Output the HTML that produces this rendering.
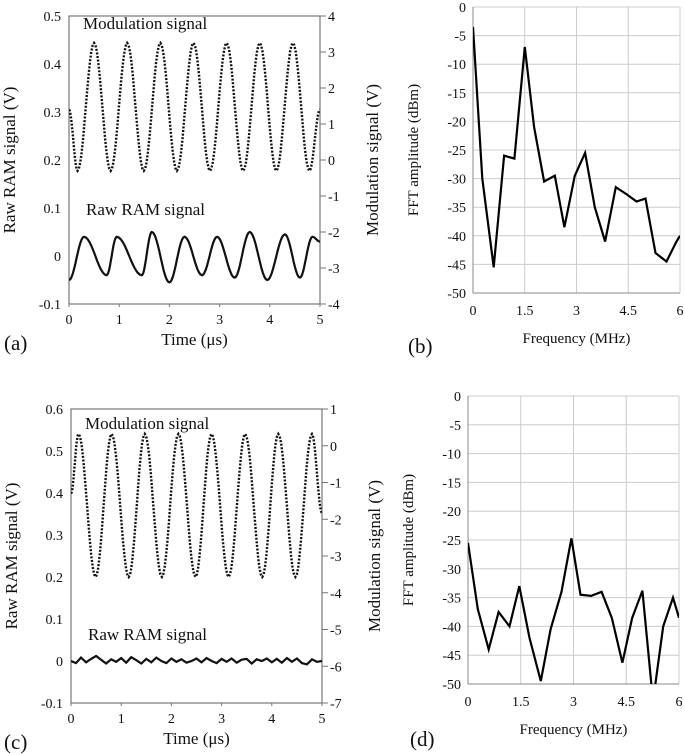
<!DOCTYPE html>
<html><head><meta charset="utf-8"><style>
body{margin:0;background:#fff}
svg{display:block}
svg text{font-family:"Liberation Serif","Times New Roman",serif}
</style></head><body>
<svg id="c" width="685" height="754" viewBox="0 0 685 754" xmlns="http://www.w3.org/2000/svg"></svg>
<script>
// Panel (a)
const aModT=[0,0.17,0.5,0.83,1.16,1.49,1.82,2.15,2.48,2.81,3.14,3.47,3.8,4.13,4.46,4.79,5.0];
const aModV=[1.4,-0.3,3.25,-0.3,3.25,-0.3,3.25,-0.3,3.25,-0.3,3.25,-0.3,3.25,-0.3,3.25,-0.3,1.4];
const aRawT=[0,0.3,0.75,0.95,1.45,1.65,2.0,2.3,2.65,2.95,3.3,3.6,3.95,4.3,4.6,4.85,5.0];
const aRawV=[-0.05,0.04,-0.04,0.04,-0.04,0.05,-0.055,0.04,-0.04,0.04,-0.045,0.05,-0.05,0.045,-0.045,0.04,0.03];
// Panel (b)
const bFreq=[0,0.27,0.6,0.9,1.2,1.5,1.77,2.06,2.37,2.65,2.95,3.25,3.53,3.83,4.14,4.44,4.74,5.0,5.29,5.61,5.9,6.0];
const bAmp=[-3.5,-30,-45.5,-26,-26.5,-7,-21,-30.5,-29.5,-38.5,-29.5,-25.5,-35,-41,-31.5,-32.7,-34,-33.5,-43,-44.5,-41,-40];
// Panel (c)
const cModT=[0,0.15,0.49,0.81,1.15,1.47,1.81,2.14,2.48,2.8,3.14,3.47,3.81,4.13,4.47,4.8,5.0];
const cModV=[-1.3,0.32,-3.57,0.32,-3.57,0.32,-3.57,0.32,-3.57,0.32,-3.57,0.32,-3.57,0.32,-3.57,0.32,-1.83];
const cRawV=[0,-0.005,0.008,-0.003,0.005,0.012,0.003,-0.006,0.004,-0.002,0.007,-0.004,0.009,0.002,-0.006,0.005,-0.003,0.008,0.0,-0.005,0.006,-0.002,0.004,-0.004,0.0,0.006,-0.003,0.007,0.0,-0.005,0.005,-0.002,0.006,-0.004,0.003,0.005,-0.006,0.004,0.0,0.006,-0.003,0.005,-0.004,0.007,-0.002,0.006,-0.005,-0.008,0.004,-0.002,0.0];
// Panel (d)
const dFreq=[0,0.28,0.59,0.87,1.18,1.46,1.75,2.07,2.35,2.66,2.94,3.2,3.5,3.8,4.09,4.39,4.67,4.96,5.26,5.55,5.83,6.0];
const dAmp=[-25.5,-37,-44,-37.5,-40,-33,-42,-49.5,-40.5,-34,-24.7,-34.5,-34.7,-34,-38.5,-46.3,-38.5,-33.8,-53,-40,-35,-38.5];
const timeTicks=[0,1,2,3,4,5];
const freqTicks=[0,1.5,3,4.5,6];
const dbTicks=[0,-5,-10,-15,-20,-25,-30,-35,-40,-45,-50];

const S=document.getElementById('c');const NS='http://www.w3.org/2000/svg';
function mk(tag,at,parent){const e=document.createElementNS(NS,tag);for(const k in at)e.setAttribute(k,at[k]);(parent||S).appendChild(e);return e;}
function txt(s,x,y,size,anchor,name,rot){const e=mk('text',{x:x,y:y,'font-size':size,'text-anchor':anchor||'middle',fill:'#111','font-family':'Liberation Serif, serif'});


if(rot)e.setAttribute('transform','rotate(-90 '+x+' '+y+')');e.textContent=s;return e;}
function lin(d0,d1,r0,r1){return v=>r0+(v-d0)/(d1-d0)*(r1-r0);}
function cosPath(T,V,sx,sy){let d='';for(let i=0;i<T.length-1;i++){for(let k=0;k<=12;k++){if(i>0&&k==0)continue;const f=k/12,w=(1-Math.cos(Math.PI*f))/2;const t=T[i]+(T[i+1]-T[i])*f,v=V[i]+(V[i+1]-V[i])*w;d+=(d?'L':'M')+sx(t).toFixed(1)+' '+sy(v).toFixed(1);}}return d;}
function linePath(X,Y,sx,sy){return X.map((x,i)=>(i?'L':'M')+sx(x).toFixed(1)+' '+sy(Y[i]).toFixed(1)).join('');}

function timePanel(o){
  const g=mk('g',{});
  const sx=lin(0,5,o.x0,o.x1),sl=lin(o.l0,o.l1,o.yb,o.yt),sr=lin(o.r0,o.r1,o.yb,o.yt);
  const clip=mk('clipPath',{id:'cl'+o.name},g);mk('rect',{x:o.x0,y:o.yt,width:o.x1-o.x0,height:o.yb-o.yt},clip);
  const r=mk('rect',{x:o.x0,y:o.yt,width:o.x1-o.x0,height:o.yb-o.yt,fill:'none',stroke:'#777','stroke-width':1.2},g);
  
  for(const t of timeTicks){txt(String(t),sx(t),o.yb+20,14,'middle','x-tick-label');mk('line',{x1:sx(t),x2:sx(t),y1:o.yb,y2:o.yb+3,stroke:'#777'},g);}
  for(let i=0;i<o.lt.length;i++){const v=o.lt[i];txt(o.ltl[i],o.x0-8,sl(v)+5,14,'end','left-tick-label');}
  for(let v=o.r0;v<=o.r1;v++){const y=sr(v);mk('line',{x1:o.x1,x2:o.x1+6,y1:y,y2:y,stroke:'#777'},g);txt(String(v),o.x1+8,y+5,14,'start','right-tick-label');}
  const m=mk('path',{d:cosPath(o.mT,o.mV,sx,sr),fill:'none',stroke:'#111','stroke-width':2.4,'stroke-dasharray':'2 1.6','clip-path':'url(#cl'+o.name+')'},g);
  
  const rw=mk('path',{d:o.rawPath(sx,sl),fill:'none',stroke:'#111','stroke-width':2.2,'clip-path':'url(#cl'+o.name+')'},g);
  
  txt('Modulation signal',o.x0+14,o.modLy,17,'start','modulation-signal-label');
  txt('Raw RAM signal',o.x0+17,o.rawLy,17,'start','raw-ram-signal-label');
  txt('Raw RAM signal (V)',o.x0-54,(o.yt+o.yb)/2,17,'middle','left-y-axis-title',true);
  txt('Modulation signal (V)',o.x1+58,(o.yt+o.yb)/2,17,'middle','right-y-axis-title',true);
  txt('Time (\u03bcs)',(o.x0+o.x1)/2,o.yb+41,17,'middle','x-axis-title');
  txt(o.letter,4,o.yb+46,21,'start','panel-label');
}
function fftPanel(o){
  const g=mk('g',{});
  const sx=lin(0,6,o.x0,o.x1),sy=lin(-50,0,o.yb,o.yt);
  const clip=mk('clipPath',{id:'cl'+o.name},g);mk('rect',{x:o.x0,y:o.yt,width:o.x1-o.x0,height:o.yb-o.yt},clip);
  for(const v of dbTicks){const y=sy(v);const l=mk('line',{x1:o.x0,x2:o.x1,y1:y,y2:y,stroke:'#ccc','stroke-width':1},g);txt(String(v),o.x0-7,y+5,14,'end','y-tick-label');}
  for(const f of freqTicks){const x=sx(f);mk('line',{x1:x,x2:x,y1:o.yt,y2:o.yb,stroke:'#ccc'},g);txt(String(f),x,o.yb+22,14,'middle','x-tick-label');}
  mk('line',{x1:o.x0,x2:o.x0,y1:o.yt,y2:o.yb,stroke:'#888'},g);
  mk('line',{x1:o.x0,x2:o.x1,y1:o.yb,y2:o.yb,stroke:'#888'},g);
  const p=mk('path',{d:linePath(o.f,o.a,sx,sy),fill:'none',stroke:'#000','stroke-width':2.2,'stroke-linejoin':'miter','clip-path':'url(#cl'+o.name+')'},g);
  
  txt('FFT amplitude  (dBm)',o.x0-55,(o.yt+o.yb)/2,15,'middle','y-axis-title',true);
  txt('Frequency  (MHz)',(o.x0+o.x1)/2,o.yb+50,15,'middle','x-axis-title');
  txt(o.letter,o.lx,o.ly,21,'start','panel-label');
}
timePanel({name:'panel-a',letter:'(a)',x0:69,x1:320,yt:16,yb:304,l0:-0.1,l1:0.5,r0:-4,r1:4,
  lt:[0.5,0.4,0.3,0.2,0.1,0,-0.1],ltl:['0.5','0.4','0.3','0.2','0.1','0','-0.1'],
  mT:aModT,mV:aModV,modLy:29,rawLy:215,rawPath:(sx,sl)=>cosPath(aRawT,aRawV,sx,sl)});
timePanel({name:'panel-c',letter:'(c)',x0:71,x1:322,yt:409,yb:703,l0:-0.1,l1:0.6,r0:-7,r1:1,
  lt:[0.6,0.5,0.4,0.3,0.2,0.1,0,-0.1],ltl:['0.6','0.5','0.4','0.3','0.2','0.1','0','-0.1'],
  mT:cModT,mV:cModV,modLy:429,rawLy:640,rawPath:(sx,sl)=>linePath(cRawV.map((v,i)=>i*0.1),cRawV,sx,sl)});
fftPanel({name:'panel-b',letter:'(b)',x0:473,x1:680,yt:7,yb:293,f:bFreq,a:bAmp,lx:408,ly:353});
fftPanel({name:'panel-d',letter:'(d)',x0:468,x1:679,yt:396,yb:684,f:dFreq,a:dAmp,lx:410,ly:746});
</script>
</body></html>
